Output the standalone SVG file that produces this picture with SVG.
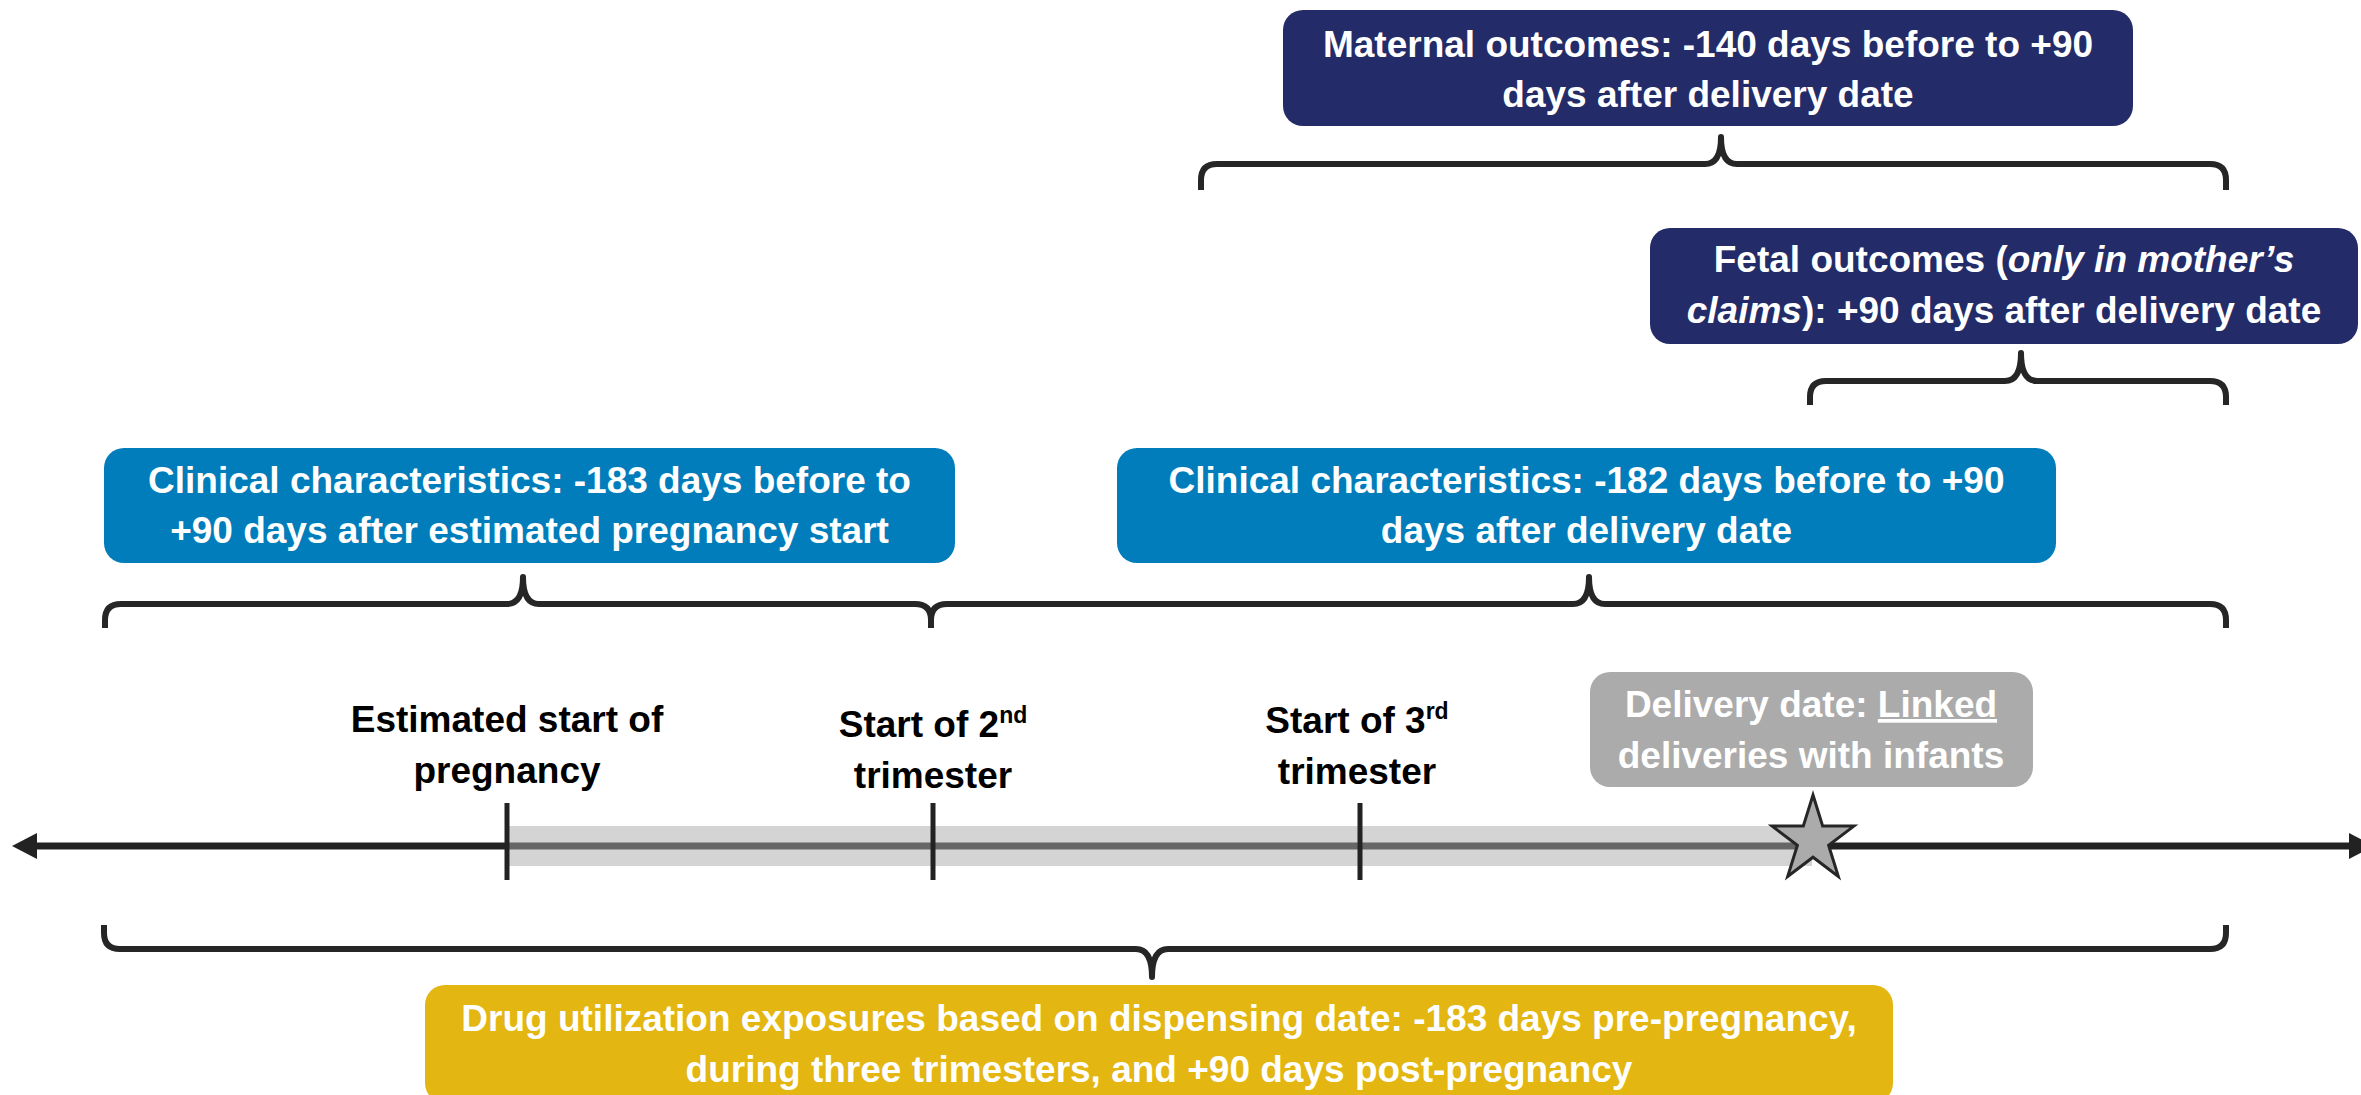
<svg xmlns="http://www.w3.org/2000/svg" width="2361" height="1095" viewBox="0 0 2361 1095">
<style>
text{font-family:"Liberation Sans",Arial,sans-serif;font-weight:bold;font-size:37px;text-anchor:middle}
.w{fill:#ffffff}
.k{fill:#000000}
.navy{fill:#232C68}
.blue{fill:#007DBA}
.gray{fill:#ABABAB}
.gold{fill:#E3B611}
.brace{fill:none;stroke:#262626;stroke-width:6;stroke-linejoin:round}
.tick{stroke:#222222;stroke-width:5}
.sup{font-size:23px}
.it{font-style:italic}
</style>
<rect width="2361" height="1095" fill="#ffffff"/>
<g id="connectors">
<line x1="30" y1="846" x2="2355" y2="846" stroke="#222222" stroke-width="7"/>
<polygon points="12,846 37,833 37,859" fill="#222222"/>
<polygon points="2374,846 2349,833 2349,859" fill="#222222"/>
<path class="brace" d="M105,628 L105,620 Q105,604 121,604 L507,604 Q523,604 523,577 Q523,604 539,604 L915,604 Q931,604 931,620 L931,628"/>
<path class="brace" d="M931,628 L931,620 Q931,604 947,604 L1573,604 Q1589,604 1589,577 Q1589,604 1605,604 L2210,604 Q2226,604 2226,620 L2226,628"/>
<path class="brace" d="M1201,190 L1201,180 Q1201,164 1217,164 L1705,164 Q1721,164 1721,137 Q1721,164 1737,164 L2210,164 Q2226,164 2226,180 L2226,190"/>
<path class="brace" d="M1810,405 L1810,397 Q1810,381 1826,381 L2005,381 Q2021,381 2021,353 Q2021,381 2037,381 L2210,381 Q2226,381 2226,397 L2226,405"/>
<path class="brace" d="M104,925 L104,933 Q104,949 120,949 L1136,949 Q1152,949 1152,977 Q1152,949 1168,949 L2210,949 Q2226,949 2226,933 L2226,925"/>
</g>
<g id="pregnancy-band">
<rect x="507" y="826" width="1305" height="40" fill="#D4D4D4"/>
<line x1="507" y1="846" x2="1812" y2="846" stroke="#666666" stroke-width="7"/>
</g>
<g id="tick-start">
<line class="tick" x1="507" y1="803" x2="507" y2="880"/>
<text class="k" x="507" y="732">Estimated start of</text>
<text class="k" x="507" y="783">pregnancy</text>
</g>
<g id="tick-2nd">
<line class="tick" x1="933" y1="803" x2="933" y2="880"/>
<text class="k" x="933" y="737">Start of 2<tspan class="sup" dy="-14">nd</tspan></text>
<text class="k" x="933" y="788">trimester</text>
</g>
<g id="tick-3rd">
<line class="tick" x1="1360" y1="803" x2="1360" y2="880"/>
<text class="k" x="1357" y="733">Start of 3<tspan class="sup" dy="-14">rd</tspan></text>
<text class="k" x="1357" y="784">trimester</text>
</g>
<g id="delivery-star">
<polygon points="1813,795 1822.7,826.1 1853.9,826.1 1828.6,845.3 1838.3,876.4 1813,857.2 1787.7,876.4 1797.4,845.3 1772.1,826.1 1803.3,826.1" fill="#ABABAB" stroke="#262626" stroke-width="3" stroke-linejoin="miter"/>
</g>
<g id="delivery-date">
<rect class="gray" x="1590" y="672" width="443" height="115" rx="20"/>
<text class="w" x="1811" y="717">Delivery date: <tspan text-decoration="underline">Linked</tspan></text>
<text class="w" x="1811" y="768">deliveries with infants</text>
</g>
<g id="maternal-outcomes">
<rect class="navy" x="1283" y="10" width="850" height="116" rx="20"/>
<text class="w" x="1708" y="57">Maternal outcomes: -140 days before to +90</text>
<text class="w" x="1708" y="107">days after delivery date</text>
</g>
<g id="fetal-outcomes">
<rect class="navy" x="1650" y="228" width="708" height="116" rx="20"/>
<text class="w" x="2004" y="272">Fetal outcomes (<tspan class="it">only in mother’s</tspan></text>
<text class="w" x="2004" y="323"><tspan class="it">claims</tspan>): +90 days after delivery date</text>
</g>
<g id="clinical-pre">
<rect class="blue" x="104" y="448" width="851" height="115" rx="20"/>
<text class="w" x="529.5" y="493">Clinical characteristics: -183 days before to</text>
<text class="w" x="529.5" y="543">+90 days after estimated pregnancy start</text>
</g>
<g id="clinical-post">
<rect class="blue" x="1117" y="448" width="939" height="115" rx="20"/>
<text class="w" x="1586.5" y="493">Clinical characteristics: -182 days before to +90</text>
<text class="w" x="1586.5" y="543">days after delivery date</text>
</g>
<g id="drug-utilization">
<rect class="gold" x="425" y="985" width="1468" height="118" rx="20"/>
<text class="w" x="1159" y="1031">Drug utilization exposures based on dispensing date: -183 days pre-pregnancy,</text>
<text class="w" x="1159" y="1082">during three trimesters, and +90 days post-pregnancy</text>
</g>
</svg>
